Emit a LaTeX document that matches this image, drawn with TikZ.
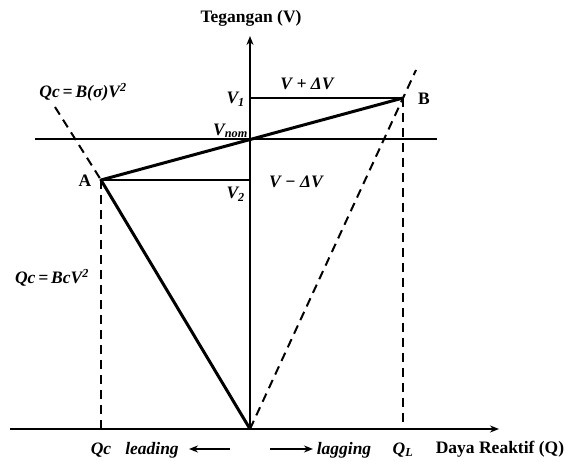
\documentclass[tikz,border=0pt]{standalone}
\usepackage{fontspec}
\setmainfont{Liberation Serif}
\usetikzlibrary{arrows.meta}
\begin{document}
\begin{tikzpicture}[x=1pt,y=-1pt,
  axis/.style={line width=2.2pt},
  thickln/.style={line width=3pt},
  thinln/.style={line width=1.8pt},
  dashln/.style={line width=2pt,dash pattern=on 9pt off 6pt},
  lbl/.style={font=\bfseries\fontsize{17.5}{19}\selectfont,inner sep=0pt},
  ilbl/.style={font=\bfseries\itshape\fontsize{17.5}{19}\selectfont,inner sep=0pt},
  tip/.style={-{Stealth[length=9pt,width=7pt]}}]
\useasboundingbox (0,0) rectangle (566,462);
% key points
\coordinate (O) at (250,429);
\coordinate (Vtop) at (250,36);
\coordinate (XL) at (10,429);
\coordinate (XR) at (499,429);
\coordinate (NL) at (35,139);
\coordinate (NR) at (437,139);
\coordinate (Vn) at (250,139);
\coordinate (B) at (403,98);
\coordinate (A) at (101,180);
\coordinate (V1p) at (250,98);
\coordinate (V2p) at (250,180);
\coordinate (Bt) at (416,70);
\coordinate (Bb) at (403,429);
\coordinate (Ab) at (101,429);
\coordinate (At) at (55,107);
\coordinate (ld1) at (230,449);
\coordinate (ld2) at (189,449);
\coordinate (lg1) at (270,449);
\coordinate (lg2) at (313,449);
% axes
\draw[axis,tip] (O) -- (Vtop);
\draw[axis,tip] (XL) -- (XR);
\draw[axis] (NL) -- (NR);
% horizontal helper lines
\draw[thinln] (V1p) -- (B);
\draw[thinln] (V2p) -- (A);
% main characteristic
\draw[thickln,line join=round] (O) -- (A) -- (B);
% dashed lines
\draw[dashln] (O) -- (Bt);
\draw[dashln] (B) -- (Bb);
\draw[dashln] (A) -- (Ab);
\draw[dashln] (At) -- (A);
% small arrows
\draw[thinln,tip] (ld1) -- (ld2);
\draw[thinln,tip] (lg1) -- (lg2);
% labels
\node[lbl] (tv) at (251,18) {Tegangan (V)};
\node[lbl] (tq) at (500,449) {Daya Reaktif (Q)};
\node[lbl] (lA) at (85,181) {A};
\node[lbl] (lB) at (424,99) {B};
\node[ilbl,anchor=east] (lV1) at (245,99) {V\textsubscript{1}};
\node[ilbl,anchor=east] (lV2) at (245,194) {V\textsubscript{2}};
\node[ilbl,anchor=east] (lVn) at (248,131) {V\textsubscript{nom}};
\node[ilbl] (lVp) at (307,84) {V + ΔV};
\node[ilbl] (lVm) at (296,182) {V − ΔV};
\node[ilbl] (lq1) at (83,92) {Qc\,=\,B(σ)V\textsuperscript{2}};
\node[ilbl] (lq2) at (52,278) {Qc\,=\,BcV\textsuperscript{2}};
\node[ilbl] (lQc) at (101,450) {Qc};
\node[ilbl] (llead) at (152,450) {leading};
\node[ilbl] (llag) at (344,450) {lagging};
\node[ilbl] (lQL) at (403,450) {Q\textsubscript{L}};
\end{tikzpicture}
\end{document}
